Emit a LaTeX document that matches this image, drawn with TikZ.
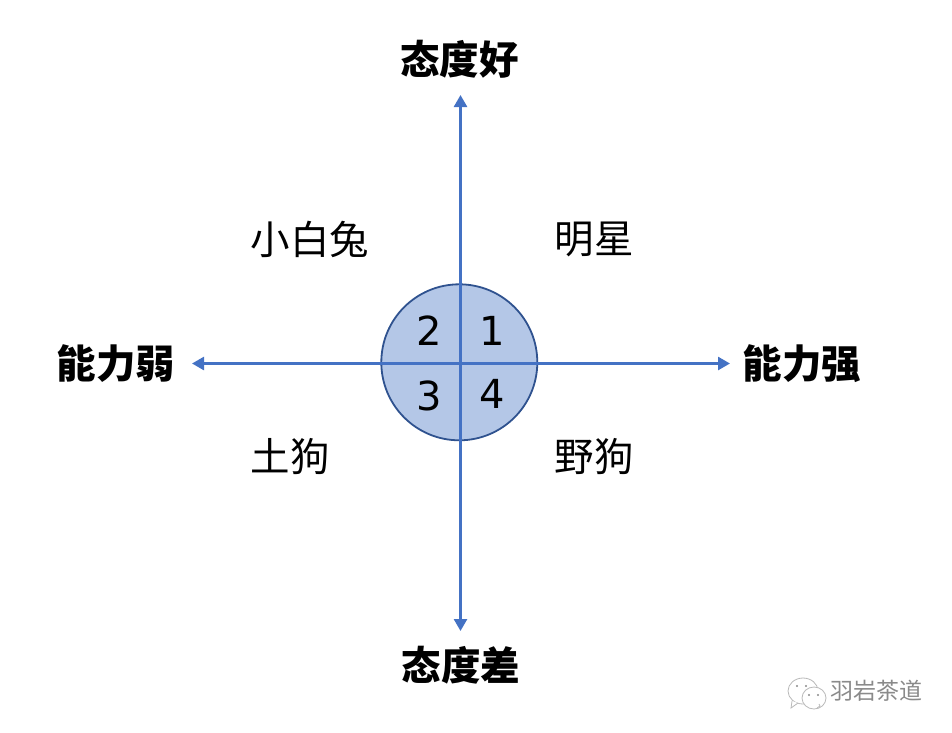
\documentclass[tikz,border=0pt]{standalone}
\usepackage{fontspec}
\setmainfont{DejaVu Sans}
\newfontfamily\cjk{Noto Sans CJK SC}
\usetikzlibrary{arrows.meta}
\definecolor{axisblue}{HTML}{4472C4}
\definecolor{rimblue}{HTML}{2F528F}
\definecolor{fillblue}{HTML}{B4C7E7}
\definecolor{markgray}{HTML}{8A8A8A}
\tikzset{
  axis/.style={draw=axisblue,line width=2.6pt,{Triangle[length=12pt,width=13pt]}-{Triangle[length=12pt,width=13pt]}},
  headlabel/.style={font=\cjk\bfseries\fontsize{39.5}{39.5}\selectfont,text=black,inner sep=0pt},
  zonelabel/.style={font=\cjk\fontsize{39.5}{39.5}\selectfont,text=black,inner sep=0pt,anchor=west},
  digit/.style={font=\fontsize{40}{40}\selectfont,text=black,inner sep=0pt},
  disc/.style={circle,draw=rimblue,line width=1.8pt,fill=fillblue,minimum size=156pt,inner sep=0pt},
  bubble/.style={draw=markgray!60,line width=0.8pt,fill=white},
  eye/.style={fill=markgray,circle,inner sep=0pt,minimum size=2.4pt},
  brandtext/.style={font=\cjk\fontsize{23}{23}\selectfont,text=markgray,inner sep=0pt,anchor=west}
}
\begin{document}
\begin{tikzpicture}[x=1pt,y=-1pt]
\useasboundingbox (0,0) rectangle (952,732);
\node[disc] (hub) at (459.3,362.3) {};
\coordinate (top) at (460.5,95);
\coordinate (bottom) at (460.5,631);
\coordinate (left) at (192,363.5);
\coordinate (right) at (730,363.5);
\draw[axis] (top) -- (bottom);
\draw[axis] (left) -- (right);
\node[headlabel] (good) at (459.5,59) {态度好};
\node[headlabel] (bad) at (461,665) {态度差};
\node[headlabel] (weak) at (116,364) {能力弱};
\node[headlabel] (strong) at (802,364) {能力强};
\node[zonelabel] (rabbit) at (250.5,239) {小白兔};
\node[zonelabel] (star) at (554.5,239) {明星};
\node[zonelabel] (dog) at (250.5,457) {土狗};
\node[zonelabel] (wild) at (554.5,457) {野狗};
\node[digit] (n1) at (492.5,331) {1};
\node[digit] (n2) at (429,331) {2};
\node[digit] (n3) at (429,396) {3};
\node[digit] (n4) at (492.5,394) {4};
% watermark
\draw[bubble] (803,691) ellipse (15pt and 13pt);
\draw[bubble] (792,701) -- (791,708) -- (798,703);
\draw[bubble] (814,698) ellipse (12pt and 11pt);
\draw[bubble] (817,708) -- (820,706) -- (819,704);
\node[eye] (e1) at (797,686) {};
\node[eye] (e2) at (806,686) {};
\node[eye] (e3) at (809,695) {};
\node[eye] (e4) at (818,695) {};
\node[brandtext] (brand) at (830,691) {羽岩茶道};
\end{tikzpicture}
\end{document}
